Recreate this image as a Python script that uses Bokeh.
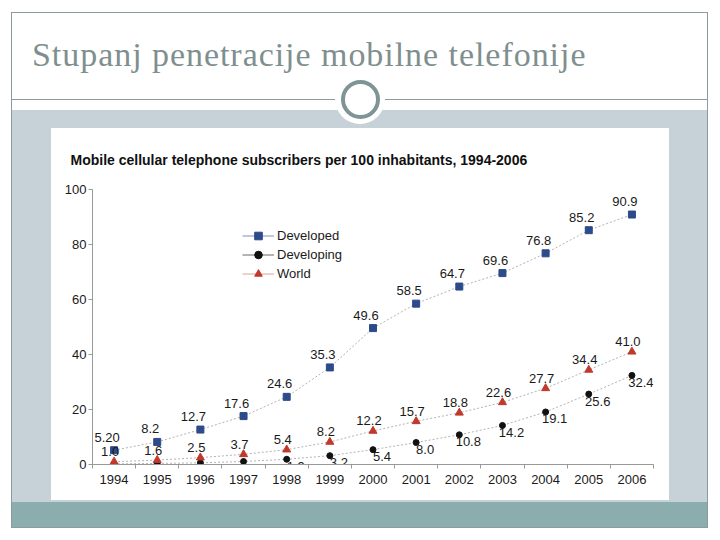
import numpy as np
from bokeh.plotting import figure
from bokeh.models import (ColumnDataSource, Range1d, FixedTicker, Legend, LegendItem,
                          Div, Column, Row)
from bokeh.core.properties import value
from bokeh.embed import file_html
from bokeh.resources import INLINE

# ---------------- data ----------------
years = [1994, 1995, 1996, 1997, 1998, 1999, 2000, 2001, 2002, 2003, 2004, 2005, 2006]
developed = [5.20, 8.2, 12.7, 17.6, 24.6, 35.3, 49.6, 58.5, 64.7, 69.6, 76.8, 85.2, 90.9]
developing = [0.19, 0.4, 0.6, 1.1, 1.9, 3.2, 5.4, 8.0, 10.8, 14.2, 19.1, 25.6, 32.4]
world = [1.0, 1.6, 2.5, 3.7, 5.4, 8.2, 12.2, 15.7, 18.8, 22.6, 27.7, 34.4, 41.0]
developed_labels = ["5.20", "8.2", "12.7", "17.6", "24.6", "35.3", "49.6", "58.5", "64.7", "69.6", "76.8", "85.2", "90.9"]
developing_labels = ["0.19", "0.4", "0.6", "1.1", "1.9", "3.2", "5.4", "8.0", "10.8", "14.2", "19.1", "25.6", "32.4"]
world_labels = ["1.0", "1.6", "2.5", "3.7", "5.4", "8.2", "12.2", "15.7", "18.8", "22.6", "27.7", "34.4", "41.0"]
y_ticks = [0, 20, 40, 60, 80, 100]
series_names = ["Developed", "Developing", "World"]
slide_title = "Stupanj penetracije mobilne telefonije"
chart_title = "Mobile cellular telephone subscribers per 100 inhabitants, 1994-2006"

# ---------------- slide geometry ----------------
W, H = 720, 540
BX0, BY0, BX1, BY1 = 51, 128, 669, 500      # white chart box (the figure)
FL, FR, FT, FB = 92, 653, 188, 464           # plot frame
FONT = "Liberation Sans"
LINE = "#8a9c9c"

deco = [
    "left:11px;top:12px;width:697px;height:516px;box-sizing:border-box;border:1px solid %s;" % LINE,
    "left:12px;top:110px;width:695px;height:392px;background:#c7d2d8;",
    "left:12px;top:502px;width:695px;height:25px;background:#8badad;",
    "left:11px;top:99px;width:697px;height:1px;background:%s;" % LINE,
    "left:335px;top:74px;width:50px;height:50px;border-radius:50%;background:#ffffff;",
    "left:340.5px;top:79.5px;width:39px;height:39px;box-sizing:border-box;border-radius:50%;"
    "border:4.5px solid #7f9494;",
]
title_css = ("left:32px;top:38px;white-space:nowrap;font-family:'Liberation Serif';font-size:34px;"
             "letter-spacing:0.95px;line-height:34px;color:#7f8f8f;")


def region(x0, y0, w, h, with_title=False):
    parts = ['<div style="position:absolute;%s"></div>' % css for css in deco]
    if with_title:
        parts.append('<div style="position:absolute;%s">%s</div>' % (title_css, slide_title))
    html = ('<div style="position:relative;width:%dpx;height:%dpx;overflow:hidden;background:#fff;">'
            '<div style="position:absolute;left:%dpx;top:%dpx;width:%dpx;height:%dpx;">%s</div></div>'
            % (w, h, -x0, -y0, W, H, "".join(parts)))
    return Div(text=html, width=w, height=h, margin=0)


# ---------------- chart ----------------
p = figure(width=BX1 - BX0, height=BY1 - BY0, output_backend="svg", toolbar_location=None,
           x_range=Range1d(years[0] - 0.5, years[-1] + 0.5),
           y_range=Range1d(y_ticks[0], y_ticks[-1]),
           min_border_left=FL - BX0, min_border_right=BX1 - FR,
           min_border_top=FT - BY0, min_border_bottom=BY1 - FB, margin=0)
p.outline_line_color = None
p.background_fill_color = "white"
p.border_fill_color = "white"
p.xgrid.visible = False
p.ygrid.visible = False

p.title.text = chart_title
p.title.align = "left"
p.title.offset = -22
p.title.standoff = 43
p.title.text_font = FONT
p.title.text_font_size = "14px"
p.title.text_font_style = "bold"
p.title.text_color = "#111111"

ax = p.xaxis[0]
ax.ticker = FixedTicker(ticks=years, minor_ticks=[y - 0.5 for y in years] + [years[-1] + 0.5])
ax.major_tick_out = 0
ax.major_tick_in = 0
ax.minor_tick_out = 4
ax.minor_tick_in = 0
ax.major_label_standoff = 6
ay = p.yaxis[0]
ay.ticker = FixedTicker(ticks=y_ticks)
ay.major_tick_out = 4
ay.major_tick_in = 0
ay.minor_tick_out = 0
ay.minor_tick_in = 0
ay.major_label_standoff = 2
for a in (ax, ay):
    a.axis_line_color = "#999999"
    a.major_tick_line_color = "#999999"
    a.minor_tick_line_color = "#999999"
    a.major_label_text_font = FONT
    a.major_label_text_font_size = "13px"
    a.major_label_text_color = "#1a1a1a"

specs = [
    (developed, developed_labels, "square", 7, "#2d4a8a", "#aab6d6", -7, -13),
    (developing, developing_labels, "circle", 6, "#111111", "#9a9a9a", 9, 7),
    (world, world_labels, "triangle", 8, "#c0392b", "#e8c0bc", -4, -10),
]
items = []
for name, (vals, labs, mk, sz, col, lcol, xo, yo) in zip(series_names, specs):
    src = ColumnDataSource(dict(x=years, y=vals, lab=labs))
    p.line("x", "y", source=src, line_color="#a0a0a0", line_width=0.8, line_dash="2 2")
    p.scatter("x", "y", source=src, marker=mk, size=sz, fill_color=col, line_color=col)
    p.text("x", "y", text="lab", source=src, x_offset=xo, y_offset=yo,
           text_align="center", text_baseline="middle", text_font=value(FONT),
           text_font_size="13px", text_color="#1a1a1a")
    leg_ln = p.line("x", "y", source=src, line_color=lcol, line_width=1.5, visible=False)
    leg_sc = p.scatter("x", "y", source=src, marker=mk, size=sz - 1, fill_color=col,
                       line_color=col, visible=False)
    items.append(LegendItem(label=name, renderers=[leg_ln, leg_sc]))

legend = Legend(items=items, location=(150, 181), background_fill_alpha=0,
                border_line_color=None, padding=0, margin=0, spacing=0,
                glyph_height=19, glyph_width=32, label_standoff=3,
                label_text_font=FONT, label_text_font_size="13px",
                label_text_color="#1a1a1a")
p.add_layout(legend)

# ---------------- page layout ----------------
top = region(0, 0, W, BY0, with_title=True)
left = region(0, BY0, BX0, BY1 - BY0)
right = region(BX1, BY0, W - BX1, BY1 - BY0)
bottom = region(0, BY1, W, H - BY1)
page = Column(children=[top, Row(children=[left, p, right], spacing=0, margin=0), bottom],
              spacing=0, margin=0)

open("out.html", "w").write(file_html(page, INLINE))
